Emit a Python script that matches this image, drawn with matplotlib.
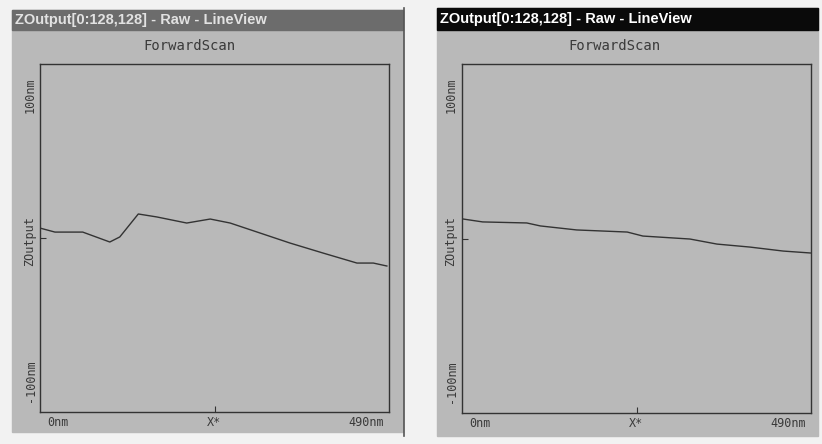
# Two LineView windows: Z output profile along X (forward scan)

import matplotlib
matplotlib.use("Agg")
import matplotlib.pyplot as plt
from matplotlib.patches import Rectangle


# ------------------------------------------------------------
# Data
# ------------------------------------------------------------
WINDOW_TITLE = "ZOutput[0:128,128] - Raw - LineView"
PLOT_TITLE = "ForwardScan"
X_LABELS = ["0nm", "X*", "490nm"]
Y_LABELS = ["-100nm", "ZOutput", "100nm"]
X_RANGE = [0, 490]
Y_RANGE = [-100, 100]

left_x = [0, 21, 60, 98, 112, 138, 164, 206, 239, 267, 305, 351, 397, 445, 468, 487]
left_z = [5.7, 3.4, 3.4, -2.3, 0.6, 13.8, 12.1, 8.6, 10.9, 8.6, 3.4, -2.9, -8.6, -14.4, -14.4, -16.1]

right_x = [1, 29, 91, 110, 161, 232, 254, 320, 358, 404, 451, 489]
right_z = [11.2, 9.5, 8.9, 7.2, 4.9, 3.7, 1.4, -0.3, -3.2, -4.9, -7.2, -8.3]

W, H = 822, 444
PANEL_BG = "#b9b9b9"
TEXT_COLOR = "#3a3a3a"


def px(x, y):
    """Pixel (from top-left) to figure fraction."""
    return x / W, 1 - y / H


def draw_window(fig, left, right, top, bottom, bar_color, bar_text_color):
    x0, y0 = px(left, bottom)
    fig.patches.append(Rectangle((x0, y0), (right - left) / W, (bottom - top) / H,
                                 transform=fig.transFigure, color=PANEL_BG, zorder=-3))
    bx, by = px(left, 30)
    fig.patches.append(Rectangle((bx, by), (right - left) / W, (30 - top) / H,
                                 transform=fig.transFigure, color=bar_color, zorder=-2))
    tx, ty = px(left + 3, (top + 30) / 2)
    fig.text(tx, ty, WINDOW_TITLE, color=bar_text_color, fontsize=10.5, fontweight="bold",
             family="Liberation Sans", va="center", ha="left")


def draw_profile(fig, rect, xs, zs, title_x, label_x):
    ax = fig.add_axes(rect)
    ax.set_facecolor(PANEL_BG)
    ax.plot(xs, zs, color="#333333", linewidth=1.0)
    ax.set_xlim(X_RANGE)
    ax.set_ylim(Y_RANGE)
    ax.set_xticks([sum(X_RANGE) / 2])
    ax.set_yticks([0])
    ax.tick_params(direction="in", length=4, width=0.8, color="#333333",
                   labelbottom=False, labelleft=False)
    for s in ax.spines.values():
        s.set_color("#333333")
        s.set_linewidth(1.0)

    l, b, w, h = rect
    top_px = (1 - (b + h)) * H
    bot_px = (1 - b) * H
    left_px = l * W
    right_px = (l + w) * W
    mono = dict(family="DejaVu Sans Mono", color=TEXT_COLOR, fontsize=8.5)

    fig.text(*px(title_x, 46), PLOT_TITLE, ha="center", va="center",
             **{**mono, "fontsize": 10})
    # x labels
    fig.text(*px(left_px + 7, bot_px + 10), X_LABELS[0], ha="left", va="center", **mono)
    fig.text(*px((left_px + right_px) / 2, bot_px + 10), X_LABELS[1], ha="center", va="center", **mono)
    fig.text(*px(right_px - 5, bot_px + 10), X_LABELS[2], ha="right", va="center", **mono)
    # y labels
    fig.text(*px(label_x, bot_px - 31), Y_LABELS[0], rotation=90, ha="center", va="center", **mono)
    fig.text(*px(label_x, (top_px + bot_px) / 2 + 3), Y_LABELS[1], rotation=90, ha="center", va="center", **mono)
    fig.text(*px(label_x, top_px + 31), Y_LABELS[2], rotation=90, ha="center", va="center", **mono)
    return ax


def main():
    fig = plt.figure(figsize=(W / 100, H / 100), dpi=100)
    fig.patch.set_facecolor("#f2f2f2")

    draw_window(fig, 12, 403, 10, 432, "#6c6c6c", "#e2e2e2")
    draw_window(fig, 437, 818, 8, 436, "#0a0a0a", "#ffffff")
    fig.add_artist(plt.Line2D([404 / W, 404 / W], [1 - 8 / H, 1 - 436 / H],
                              color="#555555", linewidth=1.2, transform=fig.transFigure))

    draw_profile(fig, [40 / W, 1 - 412 / H, 349 / W, 348 / H], left_x, left_z, 189, 30)
    draw_profile(fig, [462 / W, 1 - 413 / H, 349 / W, 349 / H], right_x, right_z, 614, 451)

    fig.savefig("out.png", dpi=100, facecolor=fig.get_facecolor())


if __name__ == "__main__":
    main()
